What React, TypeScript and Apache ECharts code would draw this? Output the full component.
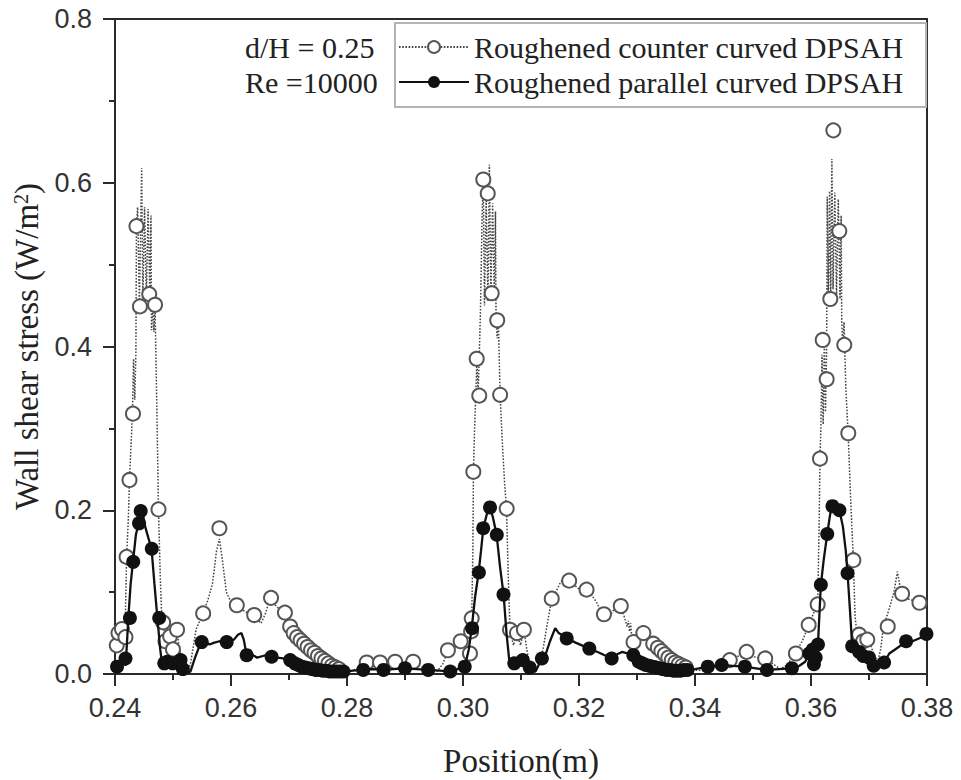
import React, { useEffect, useRef } from "react";
import * as echarts from "echarts";

const seriesNames = ["Roughened counter curved DPSAH", "Roughened parallel curved DPSAH"];
const annotations = ["d/H = 0.25", "Re =10000"];
const xAxisTitle = "Position(m)";
const yAxisTitle = "Wall shear stress (W/m{sup|2})";

// Roughened counter curved DPSAH: dotted line points
const counterLine: [number, number][] = [
  [0.24, 0.03], [0.2403, 0.045], [0.2405, 0.048], [0.2408, 0.03], [0.2411, 0.052], [0.2414, 0.056], [0.2417, 0.04],
  [0.242, 0.143], [0.2423, 0.19], [0.2425, 0.237], [0.2428, 0.285], [0.243, 0.318],
  [0.2432, 0.385], [0.2434, 0.335], [0.2436, 0.39],
  [0.2437, 0.547], [0.2439, 0.57], [0.2442, 0.452], [0.2445, 0.575], [0.2446, 0.618], [0.2448, 0.455], [0.2451, 0.57],
  [0.2454, 0.458], [0.2457, 0.568], [0.246, 0.464], [0.2462, 0.56],
  [0.2463, 0.42], [0.2465, 0.452], [0.2467, 0.418], [0.2469, 0.451],
  [0.2472, 0.33], [0.2475, 0.201], [0.2478, 0.12], [0.248, 0.08], [0.2483, 0.063], [0.2486, 0.04], [0.249, 0.03],
  [0.2495, 0.046], [0.25, 0.032], [0.2504, 0.04], [0.2507, 0.054], [0.2511, 0.03], [0.2515, 0.015], [0.252, 0.008],
  [0.2525, 0.004], [0.253, 0.012], [0.254, 0.055], [0.2552, 0.074], [0.256, 0.09], [0.2568, 0.11], [0.2575, 0.15],
  [0.258, 0.165], [0.2585, 0.14], [0.2592, 0.1], [0.26, 0.088], [0.261, 0.083], [0.262, 0.078], [0.263, 0.074],
  [0.264, 0.07], [0.2652, 0.062], [0.266, 0.075], [0.2668, 0.095], [0.2675, 0.085], [0.2685, 0.078], [0.2693, 0.073],
  [0.27, 0.06], [0.271, 0.046], [0.272, 0.04], [0.273, 0.034], [0.274, 0.028], [0.275, 0.022], [0.276, 0.016],
  [0.277, 0.011], [0.278, 0.007], [0.279, 0.004], [0.28, 0.003], [0.281, 0.004], [0.282, 0.008], [0.2834, 0.014],
  [0.2845, 0.01], [0.2857, 0.014], [0.287, 0.009], [0.2883, 0.015], [0.2898, 0.01], [0.2914, 0.015], [0.293, 0.008],
  [0.2945, 0.004], [0.2955, 0.003], [0.2965, 0.012], [0.2974, 0.029], [0.2985, 0.032], [0.2996, 0.04], [0.3005, 0.048],
  [0.3012, 0.06], [0.3015, 0.068], [0.3017, 0.15], [0.3018, 0.247], [0.302, 0.3], [0.3022, 0.34],
  [0.3024, 0.385], [0.3026, 0.342], [0.3028, 0.388],
  [0.303, 0.44], [0.3033, 0.56], [0.3035, 0.604], [0.3037, 0.45], [0.304, 0.58], [0.3043, 0.455], [0.30455, 0.622],
  [0.3048, 0.46], [0.3051, 0.575], [0.3054, 0.462], [0.3056, 0.565],
  [0.3057, 0.432], [0.3059, 0.41], [0.3061, 0.432],
  [0.3063, 0.37], [0.3064, 0.341], [0.3068, 0.28], [0.3072, 0.23], [0.3075, 0.202], [0.3078, 0.12], [0.3081, 0.054],
  [0.3087, 0.035], [0.3093, 0.05], [0.3099, 0.035], [0.3105, 0.054], [0.311, 0.03], [0.3115, 0.012], [0.312, 0.005],
  [0.3125, 0.003], [0.313, 0.01], [0.3138, 0.03], [0.3145, 0.06], [0.3153, 0.092], [0.316, 0.1], [0.3168, 0.112],
  [0.3175, 0.118], [0.3183, 0.114], [0.319, 0.11], [0.3198, 0.105], [0.3205, 0.102], [0.3213, 0.103], [0.322, 0.098],
  [0.323, 0.088], [0.3237, 0.078], [0.3243, 0.073], [0.325, 0.068], [0.3257, 0.075], [0.3265, 0.085], [0.3272, 0.083],
  [0.3278, 0.07], [0.3283, 0.058], [0.3285, 0.065], [0.3287, 0.052], [0.3289, 0.062], [0.3291, 0.045], [0.3294, 0.039],
  [0.3302, 0.045], [0.3311, 0.05], [0.332, 0.042], [0.3328, 0.037], [0.3335, 0.031], [0.3342, 0.026], [0.335, 0.021],
  [0.3358, 0.017], [0.3365, 0.013], [0.3372, 0.011], [0.338, 0.009], [0.3388, 0.007], [0.34, 0.005], [0.3412, 0.004],
  [0.3425, 0.006], [0.344, 0.01], [0.345, 0.015], [0.346, 0.017], [0.3475, 0.022], [0.3489, 0.027], [0.3505, 0.02],
  [0.3521, 0.019], [0.3535, 0.012], [0.3548, 0.006], [0.356, 0.012], [0.3572, 0.025], [0.3585, 0.04], [0.3596, 0.06],
  [0.3605, 0.075], [0.36115, 0.085], [0.3614, 0.18], [0.36155, 0.263], [0.3617, 0.3],
  [0.3619, 0.39], [0.3621, 0.305], [0.3623, 0.408], [0.3625, 0.32], [0.3627, 0.4],
  [0.3628, 0.583], [0.363, 0.462], [0.3632, 0.59], [0.3634, 0.458], [0.3636, 0.629], [0.3638, 0.47], [0.3641, 0.588],
  [0.3644, 0.462], [0.3647, 0.58], [0.365, 0.458], [0.3652, 0.56],
  [0.3653, 0.43], [0.3655, 0.4], [0.3657, 0.43],
  [0.366, 0.35], [0.3664, 0.294], [0.3668, 0.22], [0.3673, 0.139], [0.3676, 0.07], [0.368, 0.045], [0.3685, 0.038],
  [0.369, 0.045], [0.3695, 0.035], [0.37, 0.04], [0.3708, 0.025], [0.3715, 0.015], [0.372, 0.03], [0.3725, 0.058],
  [0.3735, 0.08], [0.3743, 0.1], [0.3749, 0.125], [0.3755, 0.1], [0.3765, 0.092], [0.3775, 0.09], [0.3787, 0.087],
  [0.38, 0.08],
];

// Roughened counter curved DPSAH: open circle markers
const counterMarkers: [number, number][] = [
  [0.2403, 0.035], [0.2406, 0.05], [0.2412, 0.055], [0.2418, 0.045], [0.242, 0.143], [0.2425, 0.237], [0.2431, 0.318],
  [0.2437, 0.547], [0.2443, 0.449], [0.2459, 0.464], [0.2469, 0.451], [0.2475, 0.201], [0.2483, 0.063], [0.2487, 0.04],
  [0.2495, 0.046], [0.25, 0.03], [0.2507, 0.054],
  [0.2552, 0.074], [0.258, 0.178], [0.261, 0.084], [0.264, 0.072], [0.2669, 0.093], [0.2693, 0.075],
  [0.2702, 0.058], [0.2708, 0.05], [0.2714, 0.045], [0.272, 0.041], [0.2726, 0.037], [0.2732, 0.033], [0.2738, 0.029],
  [0.2744, 0.026], [0.275, 0.022], [0.2756, 0.019], [0.2762, 0.016], [0.2768, 0.013], [0.2774, 0.01], [0.278, 0.008],
  [0.2786, 0.006],
  [0.2834, 0.014], [0.2857, 0.014], [0.2883, 0.015], [0.2914, 0.015],
  [0.2974, 0.029], [0.2996, 0.04], [0.3012, 0.025], [0.3014, 0.052], [0.3015, 0.068],
  [0.30178, 0.247], [0.30236, 0.385], [0.3028, 0.34], [0.3035, 0.604], [0.30426, 0.587], [0.30495, 0.465],
  [0.3059, 0.432], [0.3064, 0.341], [0.30753, 0.202], [0.3081, 0.054], [0.3093, 0.05], [0.3105, 0.054],
  [0.3153, 0.092], [0.3183, 0.114], [0.3213, 0.103], [0.3243, 0.073], [0.3272, 0.083], [0.3294, 0.039], [0.3311, 0.05],
  [0.3328, 0.037], [0.3336, 0.032], [0.3342, 0.028], [0.3348, 0.024], [0.3354, 0.02], [0.336, 0.017], [0.3366, 0.014],
  [0.3372, 0.012], [0.3378, 0.01], [0.3384, 0.008],
  [0.346, 0.017], [0.3489, 0.027], [0.3521, 0.019], [0.3574, 0.025],
  [0.3596, 0.06], [0.36115, 0.085], [0.36155, 0.263], [0.36202, 0.408], [0.3627, 0.36], [0.36333, 0.458],
  [0.36385, 0.664], [0.36488, 0.541], [0.36574, 0.402], [0.36643, 0.294], [0.3673, 0.139], [0.3683, 0.048],
  [0.369, 0.04], [0.3697, 0.042], [0.37323, 0.058], [0.3757, 0.098], [0.3787, 0.087],
];

// Roughened parallel curved DPSAH: solid line points
const parallelLine: [number, number][] = [
  [0.24, 0.005], [0.2403, 0.009], [0.2406, 0.004], [0.241, 0.012], [0.2415, 0.019], [0.2418, 0.01], [0.242, 0.03],
  [0.2423, 0.069], [0.2427, 0.11], [0.2431, 0.137], [0.2436, 0.17], [0.2441, 0.184], [0.2444, 0.199], [0.2448, 0.195],
  [0.2452, 0.18], [0.2458, 0.165], [0.2463, 0.153], [0.2468, 0.11], [0.2473, 0.069], [0.2478, 0.03], [0.2481, 0.013],
  [0.2485, 0.01], [0.249, 0.015], [0.2495, 0.01], [0.25, 0.014], [0.2505, 0.012], [0.251, 0.017], [0.2515, 0.008],
  [0.252, 0.004], [0.2525, 0.002], [0.253, 0.003], [0.2538, 0.02], [0.2546, 0.035], [0.2555, 0.04], [0.2563, 0.036],
  [0.257, 0.038], [0.258, 0.04], [0.259, 0.039], [0.2596, 0.04], [0.2605, 0.042], [0.2612, 0.048], [0.2618, 0.05],
  [0.2622, 0.042], [0.2627, 0.023], [0.2635, 0.024], [0.2645, 0.02], [0.2655, 0.022], [0.2665, 0.024], [0.2672, 0.021],
  [0.268, 0.02], [0.269, 0.019], [0.27, 0.017], [0.271, 0.013], [0.272, 0.01], [0.273, 0.008], [0.274, 0.006],
  [0.275, 0.005], [0.276, 0.004], [0.277, 0.003], [0.278, 0.003], [0.2797, 0.003], [0.281, 0.004], [0.2828, 0.005],
  [0.2845, 0.006], [0.2863, 0.005], [0.288, 0.006], [0.29, 0.007], [0.292, 0.006], [0.294, 0.005], [0.296, 0.004],
  [0.2978, 0.003], [0.299, 0.006], [0.3003, 0.009], [0.301, 0.03], [0.3015, 0.056], [0.3021, 0.095], [0.3027, 0.124],
  [0.3031, 0.15], [0.3035, 0.178], [0.3041, 0.195], [0.3047, 0.2035], [0.3052, 0.19], [0.3058, 0.17], [0.3064, 0.13],
  [0.307, 0.097], [0.3075, 0.05], [0.308, 0.015], [0.3088, 0.013], [0.3095, 0.018], [0.3103, 0.017], [0.311, 0.01],
  [0.3115, 0.008], [0.312, 0.004], [0.3125, 0.003], [0.3136, 0.019], [0.3141, 0.021], [0.315, 0.04], [0.3159, 0.056],
  [0.3165, 0.05], [0.3179, 0.0435], [0.3195, 0.038], [0.3218, 0.031], [0.3235, 0.026], [0.3256, 0.019], [0.3266, 0.024],
  [0.3274, 0.027], [0.3285, 0.025], [0.3294, 0.023], [0.3301, 0.015], [0.331, 0.012], [0.332, 0.01], [0.333, 0.008],
  [0.334, 0.006], [0.335, 0.005], [0.336, 0.004], [0.3372, 0.004], [0.3386, 0.005], [0.34, 0.006], [0.3422, 0.009],
  [0.3446, 0.011], [0.3465, 0.01], [0.3486, 0.009], [0.3505, 0.007], [0.3524, 0.005], [0.3545, 0.006], [0.3567, 0.007],
  [0.358, 0.01], [0.359, 0.015], [0.3597, 0.025], [0.3603, 0.03], [0.3608, 0.02], [0.3612, 0.036], [0.3615, 0.08],
  [0.3617, 0.109], [0.3622, 0.14], [0.3628, 0.171], [0.3633, 0.195], [0.3637, 0.205], [0.3643, 0.204], [0.3649, 0.2],
  [0.3655, 0.18], [0.366, 0.15], [0.3663, 0.123], [0.3667, 0.08], [0.3671, 0.034], [0.3677, 0.03], [0.3683, 0.027],
  [0.369, 0.022], [0.37, 0.02], [0.3712, 0.015], [0.372, 0.012], [0.3726, 0.014], [0.3735, 0.025], [0.3745, 0.03],
  [0.3755, 0.035], [0.3764, 0.04], [0.3775, 0.04], [0.3788, 0.044], [0.38, 0.049],
];

// Roughened parallel curved DPSAH: filled circle markers
const parallelMarkers: [number, number][] = [
  [0.24035, 0.009], [0.24181, 0.019], [0.24257, 0.0685], [0.24314, 0.137], [0.24414, 0.184], [0.24443, 0.199],
  [0.24634, 0.153], [0.24762, 0.0685], [0.2485, 0.013], [0.249, 0.015], [0.24996, 0.013], [0.2513, 0.017], [0.2517, 0.006],
  [0.25495, 0.039], [0.25926, 0.039], [0.2627, 0.023], [0.267, 0.021], [0.2702, 0.017],
  [0.271, 0.013], [0.2716, 0.011], [0.2722, 0.009], [0.2728, 0.008], [0.2734, 0.007], [0.274, 0.006], [0.2746, 0.005],
  [0.2752, 0.005], [0.2758, 0.004], [0.2764, 0.004], [0.277, 0.003], [0.2776, 0.003], [0.2782, 0.003], [0.2788, 0.003],
  [0.2794, 0.003],
  [0.2828, 0.005], [0.2863, 0.005], [0.29, 0.007], [0.294, 0.005], [0.2978, 0.003], [0.3003, 0.009],
  [0.30157, 0.056], [0.30274, 0.124], [0.30348, 0.178], [0.30466, 0.2035], [0.30583, 0.17], [0.30698, 0.097],
  [0.30884, 0.013], [0.3103, 0.017], [0.3115, 0.008], [0.3136, 0.019], [0.31788, 0.0435], [0.32178, 0.031],
  [0.32563, 0.019], [0.32937, 0.023],
  [0.3303, 0.015], [0.3309, 0.013], [0.3315, 0.011], [0.3321, 0.01], [0.3327, 0.009], [0.3333, 0.008], [0.3339, 0.007],
  [0.3345, 0.006], [0.3351, 0.005], [0.3357, 0.005], [0.3363, 0.004], [0.3369, 0.004], [0.3375, 0.004], [0.3381, 0.005],
  [0.3387, 0.005],
  [0.3422, 0.009], [0.3446, 0.011], [0.3486, 0.009], [0.3524, 0.005], [0.3567, 0.007],
  [0.3597, 0.025], [0.3603, 0.03], [0.3605, 0.012], [0.3608, 0.02], [0.3612, 0.036], [0.3617, 0.109], [0.3628, 0.171],
  [0.3637, 0.205], [0.3649, 0.2], [0.3663, 0.123], [0.3671, 0.034], [0.3683, 0.027], [0.369, 0.022], [0.37, 0.02],
  [0.3708, 0.01], [0.3726, 0.014], [0.3764, 0.04], [0.3799, 0.049],
];

export default function App() {
  const ref = useRef<HTMLDivElement>(null);

  useEffect(() => {
    document.body.style.margin = "0";
    const chart = echarts.init(ref.current as HTMLDivElement, null, { renderer: "svg" });
    const serif = "Liberation Serif";
    const sans = "Liberation Sans";
    const axisColor = "#2a2a2a";
    const textColor = "#222";

    const axisCommon = {
      type: "value",
      axisLine: { show: true, onZero: false, lineStyle: { color: axisColor, width: 2 } },
      axisTick: { show: true, inside: false, length: 12, lineStyle: { color: axisColor, width: 2 } },
      minorTick: { show: true, splitNumber: 2, length: 6, lineStyle: { color: axisColor, width: 2 } },
      splitLine: { show: false },
      minorSplitLine: { show: false },
      nameLocation: "middle",
    };

    chart.setOption({
      animation: false,
      backgroundColor: "#fff",
      grid: {
        left: 115,
        right: 34,
        top: 19,
        bottom: 106,
        show: true,
        borderColor: axisColor,
        borderWidth: 2,
        containLabel: false,
        outerBoundsMode: "none",
      },
      xAxis: {
        ...axisCommon,
        min: 0.24,
        max: 0.38,
        interval: 0.02,
        axisLabel: {
          margin: 20,
          fontFamily: sans,
          fontSize: 27,
          color: "#333",
          formatter: (v: number) => v.toFixed(2),
        },
        name: xAxisTitle,
        nameGap: 70,
        nameTextStyle: { fontFamily: serif, fontSize: 33, color: textColor },
      },
      yAxis: {
        ...axisCommon,
        min: 0,
        max: 0.8,
        interval: 0.2,
        axisLabel: {
          margin: 23,
          fontFamily: sans,
          fontSize: 27,
          color: "#333",
          formatter: (v: number) => v.toFixed(1),
        },
        name: yAxisTitle,
        nameGap: 68,
        nameTextStyle: {
          fontFamily: serif,
          fontSize: 33,
          color: textColor,
          rich: {
            sup: { fontFamily: serif, fontSize: 20, color: textColor, verticalAlign: "top" },
          },
        },
      },
      legend: {
        show: true,
        orient: "vertical",
        left: 395,
        top: 23,
        padding: [9, 23, 10, 3],
        itemGap: 5,
        itemWidth: 70,
        itemHeight: 15,
        backgroundColor: "#fff",
        borderColor: "#b4b4b4",
        borderWidth: 2,
        textStyle: { fontFamily: serif, fontSize: 30, color: textColor },
        data: seriesNames,
      },
      graphic: annotations.map((t, i) => ({
        type: "text",
        x: 245,
        y: 47 + i * 35,
        z: 10,
        style: {
          text: t,
          fontFamily: serif,
          fontSize: 30,
          fill: textColor,
          align: "left",
          verticalAlign: "middle",
        },
      })),
      series: [
        {
          type: "line",
          name: seriesNames[0],
          data: counterLine,
          showSymbol: false,
          symbol: "emptyCircle",
          lineStyle: { color: "#444", width: 1.5, type: [1.6, 1.6] },
          itemStyle: { color: "#555" },
          z: 2,
        },
        {
          type: "scatter",
          name: seriesNames[0],
          data: counterMarkers,
          symbol: "emptyCircle",
          symbolSize: 14,
          itemStyle: { color: "#555", borderWidth: 1.6, opacity: 1 },
          z: 3,
        },
        {
          type: "line",
          name: seriesNames[1],
          data: parallelLine,
          showSymbol: false,
          symbol: "circle",
          lineStyle: { color: "#111", width: 2.3 },
          itemStyle: { color: "#111" },
          z: 4,
        },
        {
          type: "scatter",
          name: seriesNames[1],
          data: parallelMarkers,
          symbol: "circle",
          symbolSize: 14,
          itemStyle: { color: "#111", opacity: 1 },
          z: 5,
        },
      ],
    });

    return () => chart.dispose();
  }, []);

  return <div ref={ref} style={{ width: 961, height: 780 }} />;
}
